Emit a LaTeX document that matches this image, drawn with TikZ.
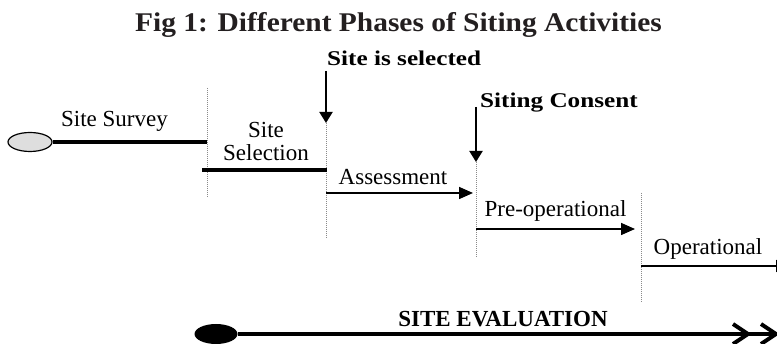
\documentclass[tikz,border=0pt]{standalone}
\usepackage{fontspec}
\setmainfont{Liberation Serif}
\newfontfamily\wideserif[FakeStretch=1.2]{Liberation Serif}
\newfontfamily\titleserif[FakeStretch=1.09]{Liberation Serif}
\usetikzlibrary{arrows.meta,shapes.geometric}
\definecolor{titlegray}{HTML}{231F20}
\definecolor{guidegray}{HTML}{8A8A8A}
\tikzset{
  titletext/.style={font=\titleserif\bfseries\fontsize{27}{30}\selectfont, text=titlegray, inner sep=0pt, anchor=base},
  lbl/.style={font=\fontsize{23}{25}\selectfont, inner sep=0pt, anchor=base},
  blbl/.style={font=\wideserif\bfseries\fontsize{21}{23}\selectfont, inner sep=0pt, anchor=base west},
  evlbl/.style={font=\bfseries\fontsize{23}{25}\selectfont, inner sep=0pt, anchor=base},
  startoval/.style={ellipse, draw=black, fill=black!13, line width=1.2pt, minimum width=44pt, minimum height=19pt, inner sep=0pt},
  endoval/.style={ellipse, fill=black, minimum width=43pt, minimum height=20pt, inner sep=0pt},
  phaseline/.style={line width=4.5pt},
  guide/.style={draw=guidegray, line width=0.9pt, dash pattern=on 1pt off 1pt},
  varrow/.style={line width=2pt, -{Triangle[length=11pt,width=13pt]}},
  harrow/.style={line width=1.6pt, -{Triangle[length=14pt,width=12pt]}},
  bigline/.style={line width=4.5pt},
  chev/.style={line width=4pt, miter limit=10}
}
\begin{document}
\begin{tikzpicture}[x=1pt,y=-1pt]
\useasboundingbox (0,0) rectangle (777,344);
\clip (0,0) rectangle (777,344);

% title
\node[titletext] (title) at (398.5,32) {Fig 1: Different Phases of Siting Activities};

% dotted guides
\coordinate (d1t) at (207,88);  \coordinate (d1b) at (207,198);
\coordinate (d2t) at (326,123); \coordinate (d2b) at (326,238);
\coordinate (d3t) at (476,162); \coordinate (d3b) at (476,258);
\coordinate (d4t) at (641,193); \coordinate (d4b) at (641,303);
\draw[guide] (d1t) -- (d1b);
\draw[guide] (d2t) -- (d2b);
\draw[guide] (d3t) -- (d3b);
\draw[guide] (d4t) -- (d4b);

% site survey
\node[startoval] (start) at (30,142) {};
\coordinate (s1) at (207,142);
\draw[phaseline] (start.east) -- (s1);
\node[lbl] (survey) at (114.5,127) {Site Survey};

% site selection
\coordinate (ss1) at (202,170); \coordinate (ss2) at (327,170);
\draw[phaseline] (ss1) -- (ss2);
\node[lbl] (sel1) at (266,138) {Site};
\node[lbl] (sel2) at (266,161) {Selection};

% site is selected
\node[blbl] (selected) at (327,66) {Site is selected};
\coordinate (a1t) at (326,71);
\draw[varrow] (a1t) -- (d2t);

% siting consent
\node[blbl] (consent) at (480,108) {Siting Consent};
\coordinate (a2t) at (476,107);
\draw[varrow] (a2t) -- (d3t);

% assessment
\coordinate (as1) at (326,193); \coordinate (as2) at (473,193);
\draw[harrow] (as1) -- (as2);
\node[lbl] (assess) at (393,185) {Assessment};

% pre-operational
\coordinate (po1) at (476,229); \coordinate (po2) at (635,229);
\draw[harrow] (po1) -- (po2);
\node[lbl] (preop) at (555.5,217) {Pre-operational};

% operational
\coordinate (op1) at (641,266); \coordinate (op2) at (790,266);
\draw[harrow] (op1) -- (op2);
\node[lbl] (oper) at (708,255) {Operational};

% site evaluation
\node[endoval] (ev) at (216,334) {};
\coordinate (evEnd) at (790,334);
\draw[bigline] (ev.east) -- (evEnd);
\coordinate (c1) at (748,334);
\coordinate (c2) at (776,334);
\draw[chev] ([shift={(-15,-10)}]c1) -- (c1) -- ([shift={(-15,10)}]c1);
\draw[chev] ([shift={(-15,-10)}]c2) -- (c2) -- ([shift={(-15,10)}]c2);
\node[evlbl] (evlabel) at (503,327) {SITE EVALUATION};
\end{tikzpicture}
\end{document}
